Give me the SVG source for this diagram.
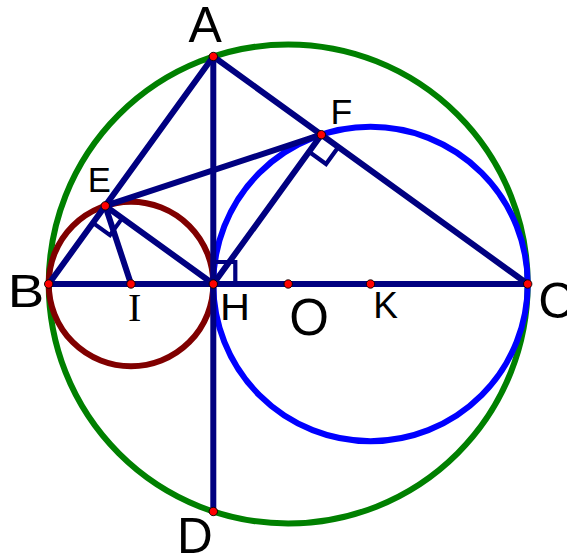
<svg xmlns="http://www.w3.org/2000/svg" width="567" height="556" viewBox="0 0 567 556">
<style>
.circ{fill:none;stroke-width:6}
.seg{stroke:#000080;stroke-width:6;stroke-linecap:round;fill:none}
.mark{stroke:#000080;stroke-width:4.2;fill:none;stroke-linejoin:miter}
.pt{fill:#ff0000;stroke:#000000;stroke-width:0.9}
.lbl{font-family:"Liberation Sans",Arial,sans-serif;fill:#000000}
</style>
<rect width="567" height="556" fill="#ffffff"/>
<g id="circles">
<circle class="circ" cx="288.2" cy="284" r="239.5" stroke="#008000"/>
<circle class="circ" cx="131" cy="284" r="82.3" stroke="#800000"/>
<circle class="circ" cx="370.5" cy="284" r="157.2" stroke="#0000ff"/>
</g>
<g id="connectors">
<line class="seg" x1="213.3" y1="56.5" x2="48.7" y2="284"/>
<line class="seg" x1="213.3" y1="56.5" x2="527.7" y2="284"/>
<line class="seg" x1="213.3" y1="56.5" x2="213.3" y2="511.5"/>
<line class="seg" x1="48.7" y1="284" x2="527.7" y2="284"/>
<line class="seg" x1="105.26" y1="205.83" x2="321.35" y2="134.69"/>
<line class="seg" x1="105.26" y1="205.83" x2="213.3" y2="284"/>
<line class="seg" x1="321.35" y1="134.69" x2="213.3" y2="284"/>
<line class="seg" x1="105.26" y1="205.83" x2="131" y2="284"/>
<polyline class="mark" points="92.95,222.84 109.96,235.15 122.27,218.14"/>
<polyline class="mark" points="309.04,151.7 326.05,164.01 338.36,147"/>
<polyline class="mark" points="213.3,262 235.3,262 235.3,284"/>
</g>
<g id="A"><circle class="pt" cx="213.3" cy="56.5" r="4.2"/><text class="lbl" x="188.5" y="42.3" font-size="50">A</text></g>
<g id="B"><circle class="pt" cx="48.7" cy="284" r="4.2"/><text class="lbl" x="7.8" y="307.3" font-size="46.5" textLength="36.5" lengthAdjust="spacingAndGlyphs">B</text></g>
<g id="C"><circle class="pt" cx="527.7" cy="284" r="4.2"/><text class="lbl" x="538.2" y="318.4" font-size="50">C</text></g>
<g id="D"><circle class="pt" cx="213.3" cy="511.5" r="4.2"/><text class="lbl" x="176.9" y="553.2" font-size="49.5">D</text></g>
<g id="E"><circle class="pt" cx="105.26" cy="205.83" r="4.2"/><text class="lbl" x="87.7" y="191.5" font-size="34.6">E</text></g>
<g id="F"><circle class="pt" cx="321.35" cy="134.69" r="4.2"/><text class="lbl" x="330.6" y="124.1" font-size="35.6">F</text></g>
<g id="H"><circle class="pt" cx="213.3" cy="284" r="4.2"/><text class="lbl" x="220" y="320" font-size="37" textLength="30" lengthAdjust="spacingAndGlyphs">H</text></g>
<g id="I"><circle class="pt" cx="131" cy="284" r="4.2"/><text x="134.6" y="320.7" font-size="40" text-anchor="middle" font-family="'Liberation Serif','Times New Roman',serif" fill="#000000">I</text></g>
<g id="O"><circle class="pt" cx="288.2" cy="284" r="4.2"/><text class="lbl" x="289.2" y="335" font-size="51">O</text></g>
<g id="K"><circle class="pt" cx="370.5" cy="284" r="4.2"/><text class="lbl" x="373.3" y="318" font-size="37">K</text></g>
</svg>
